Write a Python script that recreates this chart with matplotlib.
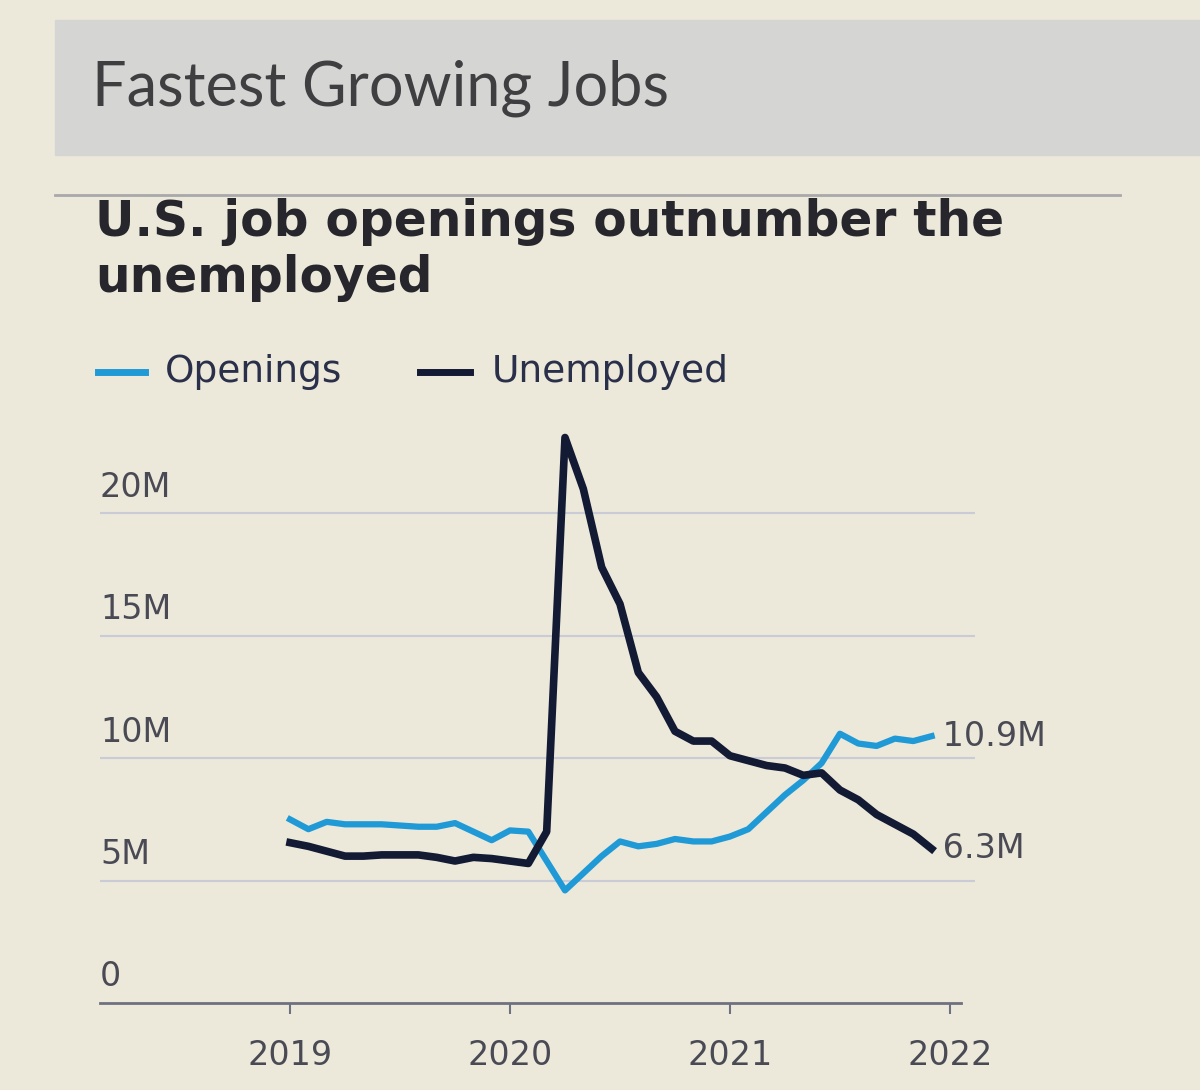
import numpy as np
import matplotlib
matplotlib.use("Agg")
from matplotlib import pyplot as plt
from matplotlib.patches import Rectangle
from matplotlib.lines import Line2D
import matplotlib.transforms as mtransforms

# monthly data, Jan 2019 - Dec 2021 (millions)
years = [2019, 2020, 2021, 2022]
openings = [7.5, 7.1, 7.4, 7.3, 7.3, 7.3, 7.25, 7.2, 7.2, 7.35, 7.0, 6.65,
            7.05, 7.0, 5.8, 4.6, 5.3, 6.0, 6.6, 6.4, 6.5, 6.7, 6.6, 6.6,
            6.8, 7.1, 7.8, 8.5, 9.1, 9.8, 11.0, 10.6, 10.5, 10.8, 10.7, 10.9]
unemployed = [6.55, 6.4, 6.2, 6.0, 6.0, 6.05, 6.05, 6.05, 5.95, 5.8, 5.95, 5.9,
              5.8, 5.7, 7.0, 23.1, 21.0, 17.8, 16.3, 13.5, 12.5, 11.1, 10.7, 10.7,
              10.1, 9.9, 9.7, 9.6, 9.3, 9.4, 8.7, 8.3, 7.7, 7.3, 6.9, 6.3]
y_ticks = [0, 5, 10, 15, 20]
y_labels = ["0", "5M", "10M", "15M", "20M"]
end_labels = ["10.9M", "6.3M"]

x = 2019 + np.arange(len(openings)) / 12.0

bg = "#ece9db"
blue = "#1f9ad6"
navy = "#131a33"
grey_txt = "#4a4a55"
lab_font = "DejaVu Sans"

fig = plt.figure(figsize=(12, 10.9), dpi=100)
fig.patch.set_facecolor(bg)

# header banner
fig.patches.append(Rectangle((55 / 1200, 1 - 155 / 1090), 1 - 55 / 1200, 135 / 1090,
                             transform=fig.transFigure, color="#d5d5d3", zorder=0))
fig.text(92 / 1200, 1 - 88 / 1090, "Fastest Growing Jobs", fontsize=44,
         family="Lato", color="#3f3f42", va="center")
fig.lines.append(Line2D([55 / 1200, 1120 / 1200], [1 - 195 / 1090, 1 - 195 / 1090],
                        transform=fig.transFigure, color="#a9a9ab", lw=2))
fig.text(95 / 1200, 1 - 222 / 1090, "U.S. job openings outnumber the", fontsize=35,
         family="DejaVu Sans", weight="heavy", color="#26262c", va="center")
fig.text(95 / 1200, 1 - 278 / 1090, "unemployed", fontsize=35,
         family="DejaVu Sans", weight="heavy", color="#26262c", va="center")

# legend
ly = 1 - 372 / 1090
fig.lines.append(Line2D([98 / 1200, 145 / 1200], [ly, ly], transform=fig.transFigure,
                        color=blue, lw=5))
fig.text(165 / 1200, ly, "Openings", fontsize=27, family=lab_font, color="#2a2f4a",
         va="center")
fig.lines.append(Line2D([420 / 1200, 470 / 1200], [ly, ly], transform=fig.transFigure,
                        color=navy, lw=5))
fig.text(492 / 1200, ly, "Unemployed", fontsize=27, family=lab_font, color="#2a2f4a",
         va="center")

# chart
ax = fig.add_axes([100 / 1200, 1 - 1003 / 1090, 875 / 1200, 612 / 1090])
ax.set_facecolor("none")
ax.set_xlim(2018.136, 2022.114)
ax.set_ylim(0, 25)

for t in y_ticks[1:]:
    ax.axhline(t, color="#c9cbd6", lw=1.5, zorder=1)
ax.plot([2018.136, 2022.05], [0, 0], color="#6f7080", lw=2, zorder=2, clip_on=False)

ax.plot(x, openings, color=blue, lw=4.5, zorder=3, solid_joinstyle="round")
ax.plot(x, unemployed, color=navy, lw=5.5, zorder=4, solid_joinstyle="round")

off = mtransforms.offset_copy(ax.transData, fig=fig, x=0, y=26, units="dots")
for t, lab in zip(y_ticks, y_labels):
    ax.text(2018.136, t, lab, transform=off, fontsize=24, family=lab_font,
            color=grey_txt, va="center", ha="left")

ax.text(x[-1], openings[-1], " " + end_labels[0], fontsize=24, family=lab_font,
        color=grey_txt, va="center", ha="left")
ax.text(x[-1], unemployed[-1], " " + end_labels[1], fontsize=24, family=lab_font,
        color=grey_txt, va="center", ha="left")

ax.set_xticks(years)
ax.set_xticklabels([str(y) for y in years], fontsize=24, family=lab_font, color=grey_txt)
ax.tick_params(axis="x", length=8, width=1.5, color="#6f7080", pad=18)
ax.set_yticks([])
for s in ax.spines.values():
    s.set_visible(False)

fig.savefig("out.png", dpi=100, facecolor=bg)
